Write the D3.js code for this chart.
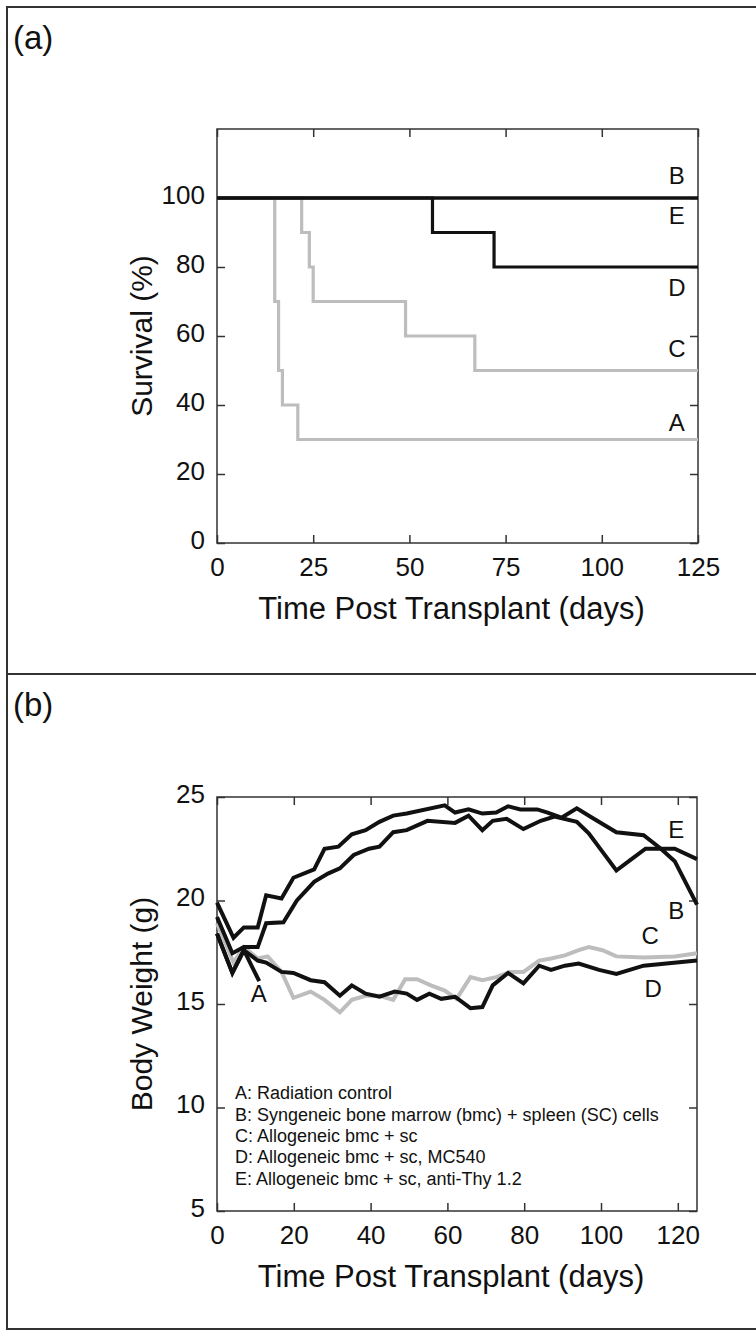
<!DOCTYPE html>
<html>
<head>
<meta charset="utf-8">
<script src="https://cdn.jsdelivr.net/npm/d3@7"></script>
<style>
  body { margin: 0; background: #fff; }
  svg text { font-family: "Liberation Sans", Arial, sans-serif; fill: #111; }
</style>
</head>
<body>
<div id="chart"></div>
<script>
// ---- panel (a) survival data: [day, percent], stepped
const survA = [[0,100],[15,70],[16,50],[17,40],[21,30],[125,30]];
const survB = [[0,100],[125,100]];
const survC = [[0,100],[22,90],[24,80],[25,70],[49,60],[67,50],[125,50]];
const survD = [[0,100],[56,90],[72,80],[125,80]];
const survE = [[0,100],[125,100]];
const survXTicks = [0,25,50,75,100,125];
const survYTicks = [0,20,40,60,80,100];
const survLabels = [
  {name:"B", day:119.5, val:106.5},
  {name:"E", day:119.5, val:95},
  {name:"D", day:119.5, val:74},
  {name:"C", day:119.5, val:56.5},
  {name:"A", day:119.5, val:35}
];

// ---- panel (b) body weight data: [day, grams]
const wtA = [[0,18.4],[4,16.5],[7,17.6],[11,16.1]];
const wtB = [[0,19.9],[4.3,18.2],[7,18.7],[10.6,18.7],[12.8,20.25],[16.8,20.1],[19.9,21.1],[25.3,21.5],
  [28,22.5],[31.6,22.6],[35.1,23.2],[38.7,23.4],[42.3,23.8],[45.9,24.1],[49.4,24.2],[59.3,24.6],
  [62,24.25],[65.5,24.4],[69.1,24.2],[72.7,24.25],[75.8,24.55],[79,24.4],[83.4,24.4],[86.1,24.25],
  [89.7,24.0],[93.7,24.45],[97.7,24.0],[104,23.3],[111.1,23.15],[115.6,22.5],[119.2,21.9],[125,19.8]];
const wtC = [[0,18.9],[4.3,17.0],[7,17.75],[10.6,17.2],[13.2,17.3],[16.8,16.55],[19.9,15.3],[24.4,15.6],
  [28,15.2],[32,14.6],[35.1,15.2],[38.7,15.4],[42.3,15.4],[45.9,15.2],[49,16.2],[52.1,16.2],
  [55.7,15.9],[59.3,15.65],[62.4,15.25],[66,16.3],[69.1,16.15],[72.7,16.3],[76.3,16.55],[79.8,16.55],
  [83.9,17.1],[87,17.2],[90.6,17.35],[94.2,17.6],[96.8,17.75],[100.4,17.6],[104,17.3],[111.1,17.25],
  [119.2,17.3],[125,17.45]];
const wtD = [[0,18.4],[4,16.5],[7,17.6],[10.6,17.1],[12.8,17.0],[16.8,16.55],[19.9,16.5],[24.4,16.15],
  [28,16.05],[32,15.4],[35.1,15.9],[38.7,15.5],[42.3,15.35],[46.3,15.6],[49.4,15.5],[52.1,15.2],
  [55.3,15.5],[58.4,15.25],[62,15.35],[66,14.8],[69.1,14.85],[71.8,15.9],[75.8,16.5],[79.8,16.0],
  [83.9,16.85],[87,16.65],[90.6,16.85],[94.2,16.95],[99.5,16.65],[104,16.45],[111.1,16.85],[125,17.1]];
const wtE = [[0,19.2],[4,17.45],[7,17.75],[10.6,17.75],[12.8,18.9],[17.3,18.95],[20.8,20.0],[25.3,20.9],
  [28.9,21.3],[32,21.55],[35.6,22.2],[39.6,22.5],[42.3,22.6],[45.9,23.3],[49.4,23.4],[54.8,23.85],
  [62,23.75],[65.5,24.1],[69.1,23.4],[71.8,23.85],[75.4,23.95],[79.8,23.45],[84.3,23.85],[87.9,24.05],
  [93.7,23.8],[96.8,23.25],[100.4,22.35],[104,21.45],[107.6,21.95],[111.6,22.5],[119.2,22.5],[125,22.0]];
const wtXTicks = [0,20,40,60,80,100,120];
const wtYTicks = [5,10,15,20,25];
const wtLabels = [
  {name:"E", day:119.6, val:23.45},
  {name:"B", day:119.6, val:19.5},
  {name:"C", day:112.8, val:18.3},
  {name:"D", day:113.6, val:15.75},
  {name:"A", day:10.9, val:15.5}
];
const legendLines = [
  "A: Radiation control",
  "B: Syngeneic bone marrow (bmc) + spleen (SC) cells",
  "C: Allogeneic bmc + sc",
  "D: Allogeneic bmc + sc, MC540",
  "E: Allogeneic bmc + sc, anti-Thy 1.2"
];

const W = 756, H = 1336;
const black = "#111", grey = "#bdbdbd";

const svg = d3.select("#chart").append("svg")
  .attr("width", W).attr("height", H);

// outer frame and divider
svg.append("rect")
  .attr("x", 7).attr("y", 7).attr("width", W + 10).attr("height", 1322)
  .attr("fill", "none").attr("stroke", "#333").attr("stroke-width", 2);
svg.append("line")
  .attr("x1", 7).attr("x2", W).attr("y1", 674).attr("y2", 674)
  .attr("stroke", "#333").attr("stroke-width", 2);

svg.append("text").attr("x", 13).attr("y", 49).attr("font-size", 33).text("(a)");
svg.append("text").attr("x", 13).attr("y", 716).attr("font-size", 33).text("(b)");

function framePanel(x, y, xTicks, yTicks, xTitle, yTitle) {
  const [x0, x1] = x.range(), [y0, y1] = y.range();
  const inner = 8;
  const g = svg.append("g");

  g.append("g").attr("transform", `translate(0,${y0})`)
    .call(d3.axisBottom(x).tickValues(xTicks).tickSizeInner(-inner).tickSizeOuter(0).tickPadding(15))
    .call(a => a.selectAll("text").attr("font-size", 26).attr("font-family", null));
  g.append("g").attr("transform", `translate(0,${y1})`)
    .call(d3.axisTop(x).tickValues(xTicks).tickSizeInner(-inner).tickSizeOuter(0).tickFormat(""));
  g.append("g").attr("transform", `translate(${x0},0)`)
    .call(d3.axisLeft(y).tickValues(yTicks).tickSizeInner(-inner).tickSizeOuter(0).tickPadding(12))
    .call(a => a.selectAll("text").attr("font-size", 26).attr("font-family", null).attr("dy", "0.2em"));
  g.append("g").attr("transform", `translate(${x1},0)`)
    .call(d3.axisRight(y).tickValues(yTicks).tickSizeInner(-inner).tickSizeOuter(0).tickFormat(""));

  g.selectAll(".domain").remove();
  g.selectAll(".tick line").attr("stroke", "#333").attr("stroke-width", 1.5);
  g.selectAll(".tick text").attr("fill", "#111");

  g.append("rect")
    .attr("x", x0).attr("y", y1).attr("width", x1 - x0).attr("height", y0 - y1)
    .attr("fill", "none").attr("stroke", "#333").attr("stroke-width", 1.5);

  g.append("text")
    .attr("x", (x0 + x1) / 2 - 6).attr("y", y0 + 76)
    .attr("text-anchor", "middle").attr("font-size", 31)
    .text(xTitle);
  g.append("text")
    .attr("transform", `translate(${152},${(y0 + y1) / 2}) rotate(-90)`)
    .attr("text-anchor", "middle").attr("font-size", 30)
    .text(yTitle);
}

// ---- panel (a)
const xA = d3.scaleLinear().domain([0, 125]).range([217, 698]);
const yA = d3.scaleLinear().domain([0, 120]).range([543, 129]);
framePanel(xA, yA, survXTicks, survYTicks, "Time Post Transplant (days)", "Survival (%)");

const stepLine = d3.line().x(d => xA(d[0])).y(d => yA(d[1])).curve(d3.curveStepAfter);
[[survA, grey], [survC, grey], [survD, black], [survB, black], [survE, black]].forEach(([s, c]) => {
  svg.append("path").datum(s)
    .attr("d", stepLine)
    .attr("fill", "none").attr("stroke", c).attr("stroke-width", 3.2);
});
svg.selectAll(".survLab").data(survLabels).enter().append("text")
  .attr("class", "survLab")
  .attr("x", d => xA(d.day)).attr("y", d => yA(d.val))
  .attr("dy", "0.36em").attr("text-anchor", "middle").attr("font-size", 24)
  .text(d => d.name);

// ---- panel (b)
const xB = d3.scaleLinear().domain([0, 125]).range([217, 697]);
const yB = d3.scaleLinear().domain([5, 25]).range([1211, 797]);
framePanel(xB, yB, wtXTicks, wtYTicks, "Time Post Transplant (days)", "Body Weight (g)");

const wtLine = d3.line().x(d => xB(d[0])).y(d => yB(d[1]));
[[wtC, grey], [wtA, black], [wtD, black], [wtE, black], [wtB, black]].forEach(([s, c]) => {
  svg.append("path").datum(s)
    .attr("d", wtLine)
    .attr("fill", "none").attr("stroke", c).attr("stroke-width", 4)
    .attr("stroke-linejoin", "miter").attr("stroke-miterlimit", 3);
});
svg.selectAll(".wtLab").data(wtLabels).enter().append("text")
  .attr("class", "wtLab")
  .attr("x", d => xB(d.day)).attr("y", d => yB(d.val))
  .attr("dy", "0.36em").attr("text-anchor", "middle").attr("font-size", 24)
  .text(d => d.name);

svg.selectAll(".legLine").data(legendLines).enter().append("text")
  .attr("class", "legLine")
  .attr("x", 235).attr("y", (d, i) => 1093 + i * 21.3)
  .attr("dy", "0.36em").attr("font-size", 18)
  .text(d => d);
</script>
</body>
</html>
